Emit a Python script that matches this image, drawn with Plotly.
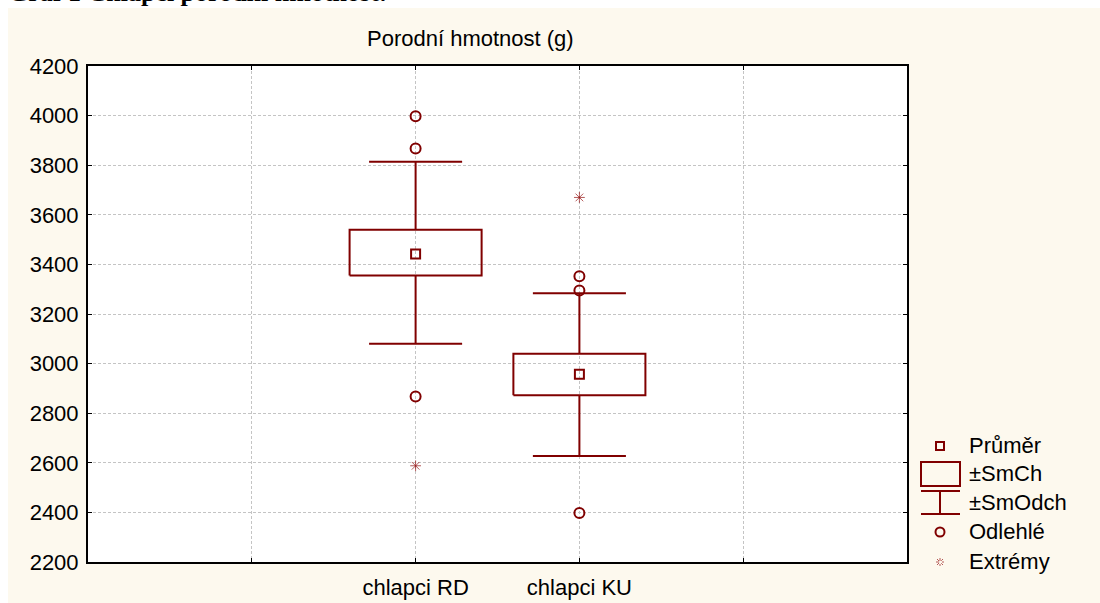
import plotly.graph_objects as go

# ---------------- data ----------------
categories = ["chlapci RD", "chlapci KU"]
cat_pos = [1, 2]
means = [3442, 2957]
se_low = [3355, 2872]      # mean - SE
se_high = [3540, 3040]     # mean + SE
sd_low = [3080, 2627]      # mean - SD
sd_high = [3814, 3284]     # mean + SD
outliers = [[3997, 3867, 2867], [3352, 3295, 2398]]
extremes = [[2588], [3670]]

y_ticks = list(range(2200, 4201, 200))
legend_labels = ["Průměr", "±SmCh", "±SmOdch", "Odlehlé", "Extrémy"]
chart_title = "Graf 1 Chlapci porodní hmotnost:"
axis_title = "Porodní hmotnost (g)"

# ---------------- style ----------------
RED = "#800000"
EXT = "rgba(150,20,20,0.7)"
CREAM = "#fdf9ee"
FONT = "Liberation Sans"
FS = 22
W, H = 1100, 603
L, R, T, B = 88, 907, 66, 562
BOX_HALF = 0.403
CAP_HALF = 0.284


def px(x):
    return (x - L) / (R - L)


def py(y):
    return (B - y) / (B - T)


fig = go.Figure()

# boxes (±SE)
bx, by = [], []
for c, lo, hi in zip(cat_pos, se_low, se_high):
    bx += [c - BOX_HALF, c + BOX_HALF, c + BOX_HALF, c - BOX_HALF, c - BOX_HALF, None]
    by += [lo, lo, hi, hi, lo, None]
fig.add_trace(go.Scatter(x=bx, y=by, mode="lines", line=dict(color=RED, width=2),
                         hoverinfo="skip"))

# whiskers (±SD)
wx, wy = [], []
for c, lo, hi, slo, shi in zip(cat_pos, se_low, se_high, sd_low, sd_high):
    wx += [c, c, None, c - CAP_HALF, c + CAP_HALF, None]
    wy += [shi, hi, None, shi, shi, None]
    wx += [c, c, None, c - CAP_HALF, c + CAP_HALF, None]
    wy += [slo, lo, None, slo, slo, None]
fig.add_trace(go.Scatter(x=wx, y=wy, mode="lines", line=dict(color=RED, width=2),
                         hoverinfo="skip"))

# means
fig.add_trace(go.Scatter(x=cat_pos, y=means, mode="markers",
                         marker=dict(symbol="square-open", size=9, color=RED,
                                     line=dict(width=2, color=RED))))

# outliers
ox, oy = [], []
for c, vals in zip(cat_pos, outliers):
    ox += [c] * len(vals)
    oy += vals
fig.add_trace(go.Scatter(x=ox, y=oy, mode="markers",
                         marker=dict(symbol="circle-open", size=10, color=RED,
                                     line=dict(width=2, color=RED))))

# extremes
ex, ey = [], []
for c, vals in zip(cat_pos, extremes):
    ex += [c] * len(vals)
    ey += vals
fig.add_trace(go.Scatter(x=ex, y=ey, mode="markers",
                         marker=dict(symbol="asterisk-open", size=9, color=EXT,
                                     line=dict(width=1, color=EXT))))

# ---------------- legend (drawn as shapes) ----------------
leg_x = 940
leg_y = [446, 474, 503, 532, 562]


def seg(x0, y0, x1, y1, color=RED, width=2, dash=None):
    d = dict(type="line", xref="paper", yref="paper",
             x0=px(x0), x1=px(x1), y0=py(y0), y1=py(y1),
             line=dict(color=color, width=width))
    if dash:
        d["line"]["dash"] = dash
    return d


shapes = [
    # white strips of the page around the cream panel
    dict(type="rect", xref="paper", yref="paper", x0=px(0), x1=px(W), y0=py(0), y1=py(8),
         fillcolor="white", line=dict(width=0), layer="below"),
    dict(type="rect", xref="paper", yref="paper", x0=px(0), x1=px(8), y0=py(0), y1=py(H),
         fillcolor="white", line=dict(width=0), layer="below"),
    # mean glyph
    dict(type="rect", xref="paper", yref="paper", x0=px(leg_x - 4), x1=px(leg_x + 4),
         y0=py(leg_y[0] + 4), y1=py(leg_y[0] - 4), line=dict(color=RED, width=2)),
    # box glyph
    dict(type="rect", xref="paper", yref="paper", x0=px(921), x1=px(960), y0=py(486), y1=py(462),
         line=dict(color=RED, width=2), fillcolor="rgba(0,0,0,0)"),
    # whisker glyph
    seg(921, 491, 960, 491),
    seg(921, 514, 960, 514),
    seg(940, 491, 940, 514),
    # outlier glyph
    dict(type="circle", xref="paper", yref="paper", x0=px(leg_x - 4.5), x1=px(leg_x + 4.5),
         y0=py(leg_y[3] + 4.5), y1=py(leg_y[3] - 4.5), line=dict(color=RED, width=2)),
    # extreme glyph (dotted star burst)
    seg(leg_x - 4, leg_y[4], leg_x + 4, leg_y[4], EXT, 1, "dot"),
    seg(leg_x, leg_y[4] - 4, leg_x, leg_y[4] + 4, EXT, 1, "dot"),
    seg(leg_x - 3, leg_y[4] - 3, leg_x + 3, leg_y[4] + 3, EXT, 1, "dot"),
    seg(leg_x - 3, leg_y[4] + 3, leg_x + 3, leg_y[4] - 3, EXT, 1, "dot"),
]

annotations = [
    dict(text=axis_title, xref="paper", yref="paper", x=px(470), y=py(38),
         xanchor="center", yanchor="middle", showarrow=False,
         font=dict(family=FONT, size=FS, color="black")),
    dict(text="<b>" + chart_title + "</b>", xref="paper", yref="paper", x=px(6), y=py(9.5),
         xanchor="left", yanchor="bottom", showarrow=False,
         font=dict(family="Liberation Serif", size=26, color="black")),
]
for lbl, yy in zip(legend_labels, leg_y):
    annotations.append(dict(text=lbl, xref="paper", yref="paper", x=px(967), y=py(yy - 1),
                            xanchor="left", yanchor="middle", showarrow=False,
                            font=dict(family=FONT, size=FS, color="black")))

axis_common = dict(
    showgrid=True, gridcolor="#c4c4c4", gridwidth=1, griddash="3px,2px",
    showline=True, linecolor="black", linewidth=2, mirror="ticks",
    ticks="inside", ticklen=4, tickcolor="black", tickwidth=1,
    zeroline=False, tickfont=dict(family=FONT, size=FS, color="black"),
)

fig.update_layout(
    width=W, height=H,
    margin=dict(l=L, r=W - R, t=T, b=H - B, autoexpand=False),
    paper_bgcolor=CREAM, plot_bgcolor="white",
    showlegend=False,
    xaxis=dict(range=[-1, 4], tickmode="array", tickvals=[0, 1, 2, 3],
               ticktext=[""] + categories + [""], ticklabelstandoff=5, **axis_common),
    yaxis=dict(range=[2200, 4200], tickmode="array", tickvals=y_ticks,
               ticklabelstandoff=3, **axis_common),
    shapes=shapes,
    annotations=annotations,
)

fig.write_html("out.html",
               config={"displayModeBar": False},
               post_script="document.body.style.margin='0';document.body.style.overflow='hidden';")
